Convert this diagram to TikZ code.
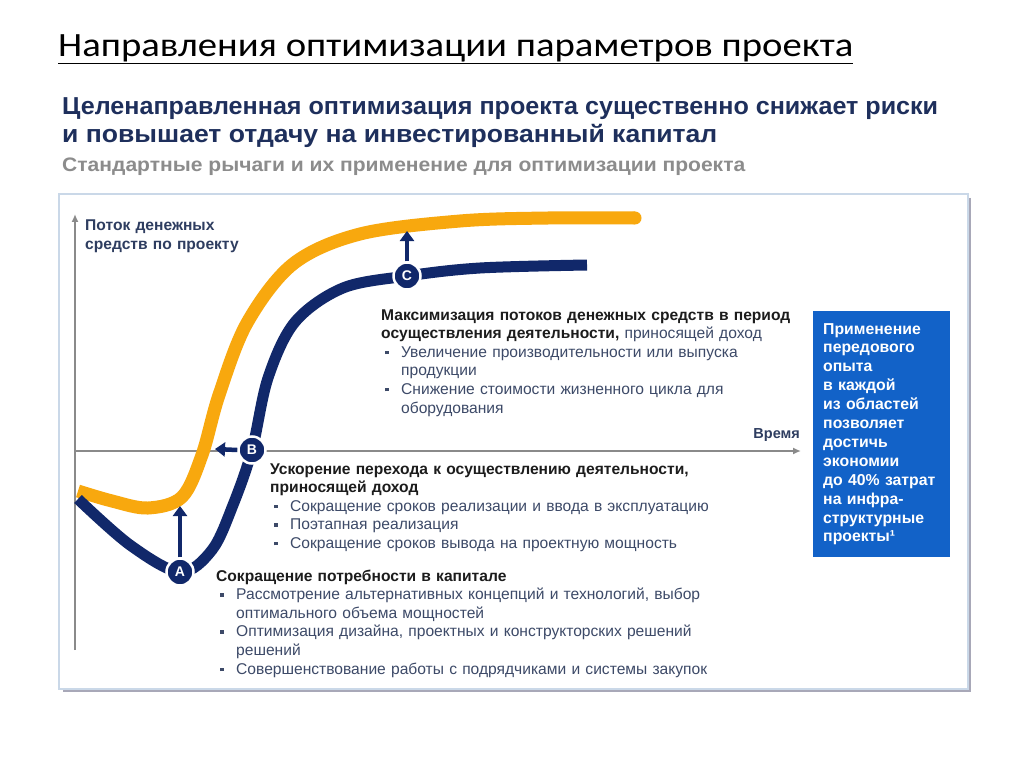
\documentclass[tikz,border=0pt]{standalone}
\usepackage{fontspec}
\setmainfont{Liberation Sans}
\newfontfamily\titlefont{Carlito}
\usetikzlibrary{arrows.meta}
\definecolor{navy}{HTML}{11286A}
\definecolor{gold}{HTML}{F8A80E}
\definecolor{boxblue}{HTML}{1262C8}
\definecolor{subnavy}{HTML}{1E2F5C}
\definecolor{subgray}{HTML}{8C8C8C}
\definecolor{axisgray}{HTML}{8A8A8A}
\definecolor{labcol}{HTML}{2E3D60}
\definecolor{headcol}{HTML}{1C1C1C}
\definecolor{bodycol}{HTML}{3D4A68}
\definecolor{framecol}{HTML}{CAD8E8}
\definecolor{shadowcol}{HTML}{A8A8B8}
\newcommand\bul{\makebox[20pt][l]{\hspace{4pt}\raisebox{3pt}{\rule{3.5pt}{3.5pt}}}}
\newcommand\ind{\hspace*{20pt}}
\newcommand\fitw[2]{\resizebox{#1}{\height}{#2}}
\tikzset{
  txt/.style={anchor=base west, inner sep=0pt, text width=560pt, align=left,
    font=\fontsize{15.6}{18.6}\selectfont, text=bodycol},
  letter/.style={circle, fill=navy, draw=white, line width=2.5pt, minimum size=27pt,
    inner sep=0pt, text=white, font=\fontsize{14}{14}\selectfont\bfseries},
  lever/.style={navy, line width=4.5pt, -{Triangle[width=14pt,length=10pt]}},
  axis/.style={axisgray, line width=1.6pt, -{Latex[length=8pt,width=7pt]}}
}
\begin{document}
\begin{tikzpicture}[x=1pt,y=-1pt]
\useasboundingbox (0,0) rectangle (1024,767);
\fill[white] (0,0) rectangle (1024,767);
% title
\node[anchor=base west, inner sep=0pt, font=\titlefont\fontsize{34}{34}\selectfont] (title) at (58,57) {\fitw{795pt}{Направления оптимизации параметров проекта}};
\draw[line width=1.8pt] ([yshift=-6.5pt]title.base west) -- ([yshift=-6.5pt]title.base east);
% subtitles
\node[anchor=base west, inner sep=0pt, text=subnavy, font=\fontsize{24.5}{24.5}\selectfont\bfseries] (sub1) at (62,115) {\fitw{876pt}{Целенаправленная оптимизация проекта существенно снижает риски}};
\node[anchor=base west, inner sep=0pt, text=subnavy, font=\fontsize{24.5}{24.5}\selectfont\bfseries] (sub2) at (62,143) {\fitw{655pt}{и повышает отдачу на инвестированный капитал}};
\node[anchor=base west, inner sep=0pt, text=subgray, font=\fontsize{19.5}{19.5}\selectfont\bfseries] (sub3) at (62,172) {\fitw{683pt}{Стандартные рычаги и их применение для оптимизации проекта}};
% frame
\draw[shadowcol, line width=2.5pt] (970,198) -- (970,691) -- (63,691);
\draw[framecol, line width=1.5pt, fill=white] (59,194) rectangle (968,689);
% axes
\coordinate (origin) at (75,650);
\coordinate (ytop) at (75,214);
\coordinate (xleft) at (75,451);
\coordinate (xend) at (801,451);
\draw[axis] (origin) -- (ytop);
\draw[axis] (xleft) -- (xend);
\node[anchor=base west, inner sep=0pt, text=labcol, align=left, text width=200pt,
  font=\fontsize{15.6}{19}\selectfont\bfseries] (ylab) at (85,230) {Поток денежных\\средств по проекту};
\node[anchor=base east, inner sep=0pt, text=labcol, font=\fontsize{14.5}{14.5}\selectfont\bfseries] (xlab) at (800,438) {Время};
% curves
\draw[gold, line width=13pt] plot[smooth, tension=0.55] coordinates {(78,491) (112,501) (148,508) (182,497) (202,455) (219,395) (247,323) (293,264) (360,234) (460,221) (548,218) (635,218)};
\fill[gold] (635,218) circle (6.5);
\draw[navy, line width=11pt] plot[smooth, tension=0.55] coordinates {(78,499) (130,545) (180,572) (212,550) (233,505) (252,450) (268,378) (295,322) (343,288) (407,276) (480,268) (587,265)};
% lever markers
\node[letter] (A) at (180,572) {A};
\node[letter] (B) at (252,450) {B};
\node[letter] (C) at (407,276) {C};
\coordinate (aTip) at (180,506);
\coordinate (bTip) at (215,449);
\coordinate (cTip) at (407,231);
\draw[lever] (A.north) -- (aTip);
\draw[lever] (B.west) -- (bTip);
\draw[lever] (C.north) -- (cTip);
% text blocks
\node[txt] (tC) at (381,320) {\textcolor{headcol}{\textbf{Максимизация потоков денежных средств в период}}\\
\textcolor{headcol}{\textbf{осуществления деятельности,}} приносящей доход\\
\bul Увеличение производительности или выпуска\\
\ind продукции\\
\bul Снижение стоимости жизненного цикла для\\
\ind оборудования};
\node[txt] (tB) at (270,474) {\textcolor{headcol}{\textbf{Ускорение перехода к осуществлению деятельности,}}\\
\textcolor{headcol}{\textbf{приносящей доход}}\\
\bul Сокращение сроков реализации и ввода в эксплуатацию\\
\bul Поэтапная реализация\\
\bul Сокращение сроков вывода на проектную мощность};
\node[txt] (tA) at (216,581) {\textcolor{headcol}{\textbf{Сокращение потребности в капитале}}\\
\bul Рассмотрение альтернативных концепций и технологий, выбор\\
\ind оптимального объема мощностей\\
\bul Оптимизация дизайна, проектных и конструкторских решений\\
\ind решений\\
\bul Совершенствование работы с подрядчиками и системы закупок};
% blue box
\node[anchor=north west, fill=boxblue, minimum width=137pt, minimum height=246pt,
  inner xsep=10pt, inner ysep=0pt, text width=117pt, align=left, text=white,
  font=\fontsize{15.8}{18.9}\selectfont\bfseries] (box) at (813,311)
  {Применение\\передового\\опыта\\в каждой\\из областей\\позволяет\\достичь\\экономии\\до 40\% затрат\\на инфра-\\структурные\\проекты¹};
\end{tikzpicture}
\end{document}
